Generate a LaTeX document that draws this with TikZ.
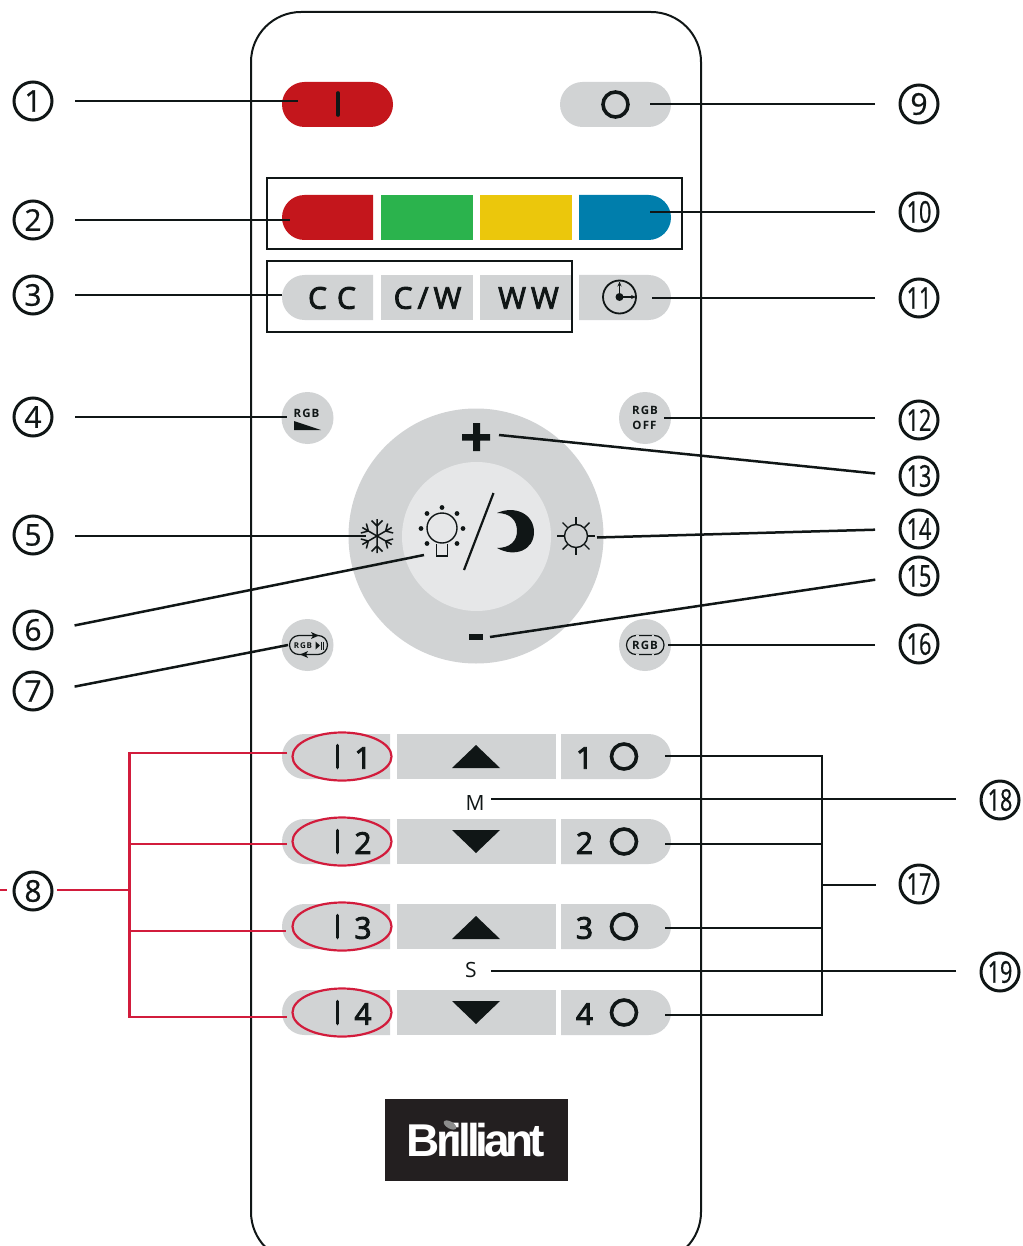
\documentclass[tikz,border=0pt]{standalone}
\usepackage{fontspec}
\usepackage{graphicx}
\setmainfont{Open Sans}
\newfontfamily\spaced[LetterSpace=10]{Open Sans}
\newfontfamily\semi[FakeBold=3]{Open Sans}
\newfontfamily\medi[FakeBold=0.8]{Open Sans}
\newfontfamily\logofont[LetterSpace=-9]{Liberation Sans}
\usetikzlibrary{shapes.misc,shapes.geometric,arrows.meta}
\definecolor{ink}{HTML}{101616}
\definecolor{bgray}{HTML}{D1D3D4}
\definecolor{lgray}{HTML}{E6E7E8}
\definecolor{bred}{HTML}{C4161C}
\definecolor{bgreen}{HTML}{2BB34D}
\definecolor{byellow}{HTML}{EBC70C}
\definecolor{bblue}{HTML}{007EAC}
\definecolor{lred}{HTML}{D21C3C}
\definecolor{logok}{HTML}{231F20}
\tikzset{
 every node/.style={inner sep=0pt,outer sep=0pt,text=ink},
 callout/.style={circle,draw=ink,line width=3pt,minimum size=38pt,font=\medi\fontsize{30}{30}\selectfont},
 pill/.style={rounded rectangle,fill=#1,minimum height=45pt},
 pillL/.style={rounded rectangle,rounded rectangle right arc=none,fill=#1,minimum height=45pt},
 pillR/.style={rounded rectangle,rounded rectangle left arc=none,fill=#1,minimum height=45pt},
 sqbtn/.style={rectangle,fill=#1,minimum height=45pt},
 roundbtn/.style={circle,fill=bgray,minimum size=52pt},
 conn/.style={draw=ink,line width=2.5pt},
 lconn/.style={conn,shorten <=23pt},
 rconn/.style={conn,shorten <=25pt},
 redconn/.style={draw=lred,line width=2.4pt},
 bold/.style={font=\semi\fontsize{30}{30}\selectfont},
 small/.style={font=\spaced\fontsize{11.5}{11.5}\selectfont\bfseries},
 bar/.style={draw=ink,line width=3.6pt,line cap=round},
 oring/.style={circle,draw=ink,line width=3.6pt,minimum size=25pt},
 redring/.style={ellipse,draw=lred,line width=2.2pt},
 thinl/.style={draw=ink,line width=1.2pt},
}
\begin{document}
\begin{tikzpicture}[x=1pt,y=-1pt]
\useasboundingbox (0,0) rectangle (1022,1246);
\clip (0,0) rectangle (1022,1246);
% body
\draw[ink,line width=2pt,rounded corners=50pt] (251,12) rectangle (701,1262);
% top buttons
\node[pill=bred,minimum width=111pt] (on) at (337.5,104.5) {};
\node[pill=bgray,minimum width=111pt] (off) at (615.5,104.5) {};
\draw[bar] (338,93) -- (338,115);
\node[oring] (offring) at (615.5,104.5) {};
% colour row
\node[pillL=bred,minimum width=91pt] (kred) at (327.5,217.5) {};
\node[sqbtn=bgreen,minimum width=92pt] (kgreen) at (427,217.5) {};
\node[sqbtn=byellow,minimum width=92pt] (kyellow) at (526,217.5) {};
\node[pillR=bblue,minimum width=92pt] (kblue) at (625,217.5) {};
\draw[ink,line width=2.4pt] (267,178) rectangle (682,249);
% white row
\node[pillL=bgray,minimum width=91pt] (kcc) at (327.5,297.5) {};
\node[sqbtn=bgray,minimum width=92pt] (kcw) at (427,297.5) {};
\node[sqbtn=bgray,minimum width=92pt] (kww) at (526,297.5) {};
\node[pillR=bgray,minimum width=92pt] (kclock) at (625,297.5) {};
\node[bold] (tcc) at (332,298) {C\,\,C};
\node[bold] (tcw) at (427.5,298) {C\,/\,W};
\node[bold] (tww) at (528.5,298) {W\,W};
\draw[ink,line width=2.4pt] (267,261) rectangle (572,332);
% clock
\draw[ink,line width=1.8pt] (619.5,297) circle (16.5);
\fill[ink] (619.5,297) circle (4);
\draw[ink,line width=1pt,-{Stealth[length=5pt,width=4pt]}] (619.5,297) -- (619.5,281.5);
\draw[ink,line width=1pt,-{Stealth[length=5pt,width=4pt]}] (619.5,297) -- (636,297);
% round keys
\node[roundbtn] (k4) at (307.5,418) {};
\node[roundbtn] (k12) at (645,418) {};
\node[roundbtn] (k7) at (307.5,645) {};
\node[roundbtn] (k16) at (645,645) {};
\node[small] (t4) at (306.5,413) {RGB};
\fill[ink] (294,421) -- (294,430) -- (321,430) -- cycle;
\node[small] (t12a) at (645,410) {RGB};
\node[small] (t12b) at (644.5,425) {OFF};
% key 7
\draw[thinl,rounded corners=9.5pt] (289.5,635.5) rectangle (327.5,654.5);
\fill[ink] (319,635.5) -- (311,632) -- (313,635.5) -- (311,639) -- cycle;
\fill[ink] (300,654.5) -- (308,651) -- (306,654.5) -- (308,658) -- cycle;
\node[font=\spaced\fontsize{8}{8}\selectfont\bfseries] (t7) at (303,645.5) {RGB};
\fill[ink] (315.5,641.5) -- (315.5,649.5) -- (320,645.5) -- cycle;
\draw[ink,line width=.9pt] (321.5,641.5) -- (321.5,649.5) (323.5,641.5) -- (323.5,649.5);
% key 16
\draw[thinl,rounded corners=9.5pt] (626.5,635.5) rectangle (664,654.5);
\draw[bgray,line width=2pt] (636,635.5) -- (638.5,635.5) (651.5,635.5) -- (654,635.5) (636,654.5) -- (638.5,654.5) (651.5,654.5) -- (654,654.5);
\node[small] (t16) at (645,645) {RGB};
% dial
\node[circle,fill=bgray,minimum size=255pt] (dial) at (476,536) {};
\node[circle,fill=lgray,minimum size=149pt] (dialin) at (476.5,536.5) {};
\fill[ink] (473,423) rectangle (480,451) (462,434) rectangle (490,440.5);
\fill[ink] (469,634) rectangle (483,640);
% snowflake
\begin{scope}[shift={(377,536)}]
\foreach \a in {0,60,...,300}{
 \draw[ink,line width=1.5pt,rotate=\a] (0,0) -- (0,-17) (-5.5,-15.5) -- (0,-10) -- (5.5,-15.5);
}
\end{scope}
% bulb
\draw[ink,line width=1.4pt] (442,528) circle (15);
\draw[ink,line width=1.4pt,fill=lgray] (436.5,544) -- (436.5,556) -- (447.5,556) -- (447.5,544);
\foreach \x/\y in {442/507.5,457/513.5,463/528.5,457/543.5,427/543.5,421/528.5,427/513.5}{
 \fill[ink] (\x,\y) circle (2.4);
}
\draw[ink,line width=2.2pt] (493.5,493) -- (464,570);
% moon
\fill[ink] (497,513) .. controls (515,505) and (534,514) .. (534,532) .. controls (534,550) and (515,558) .. (497,548) .. controls (510,548) and (517,541) .. (517,531) .. controls (517,520) and (510,513) .. (497,513) -- cycle;
% sun
\begin{scope}[shift={(576,536)}]
\draw[ink,line width=1.4pt] (0,0) circle (11.5);
\foreach \a in {0,45,...,315}{
 \draw[ink,line width=1.4pt,rotate=\a] (0,-12) -- (0,-19);
}
\end{scope}
% bottom rows
\foreach \n/\y in {1/756.5,2/841.5,3/926.5,4/1012.5}{
 \node[pillL=bgray,minimum width=108pt] (L\n) at (336,\y) {};
 \node[sqbtn=bgray,minimum width=159pt] (M\n) at (476.5,\y) {};
 \node[pillR=bgray,minimum width=110pt] (R\n) at (616,\y) {};
 \draw[bar] (337.5,\y-11) -- (337.5,\y+11);
 \node[bold] (ld\n) at (363,\y+1.5) {\n};
 \node[bold] (rd\n) at (584.5,\y+1.5) {\n};
 \node[oring] (rr\n) at (624,\y) {};
 \node[redring,minimum width=99pt,minimum height=48pt] (el\n) at (342,\y) {};
}
\fill[ink] (452,768) -- (500,768) -- (476,745) -- cycle;
\fill[ink] (452,830) -- (500,830) -- (476,853) -- cycle;
\fill[ink] (452,939) -- (500,939) -- (476,916) -- cycle;
\fill[ink] (452,1001) -- (500,1001) -- (476,1024) -- cycle;
\node[font=\fontsize{21}{21}\selectfont] (tM) at (475,803) {M};
\node[font=\fontsize{21}{21}\selectfont] (tS) at (471,970) {S};
% logo
\node[rectangle,fill=logok,minimum width=183pt,minimum height=82pt] (logo) at (476.5,1140) {};
\node[text=white,font=\logofont\fontsize{46}{46}\selectfont\bfseries] (logot) at (476,1140) {Brilliant};
\fill[black!45,rotate around={-30:(450,1125)}] (450,1125) ellipse (7 and 3.5);
% callouts
\foreach \n/\x/\y in {1/33/101,2/33/220,3/33/295,4/33/417,5/33/535,6/33/630,7/33/691,8/33/891,9/919/104}{
 \node[callout] (c\n) at (\x,\y) {\n};
}
\foreach \n/\x/\y in {10/919/212,11/919/298,12/919/420,13/919/476,14/919/529,15/919/576,16/919/644,17/919/884,18/1000/800,19/1000/972}{
 \node[callout] (c\n) at (\x,\y) {\scalebox{.72}[1]{\n}};
}
% connector ends
\coordinate (e1) at (298,101);
\coordinate (e2) at (290,220);
\coordinate (e3) at (282,295);
\coordinate (e4) at (287,417);
\coordinate (e5) at (366,536);
\coordinate (e6) at (424,555);
\coordinate (e7) at (288,645);
\coordinate (e9) at (650,104);
\coordinate (e10) at (650,212);
\coordinate (e11) at (652,298);
\coordinate (e12) at (664,418);
\coordinate (e13) at (499,435);
\coordinate (e14) at (597,537.5);
\coordinate (e15) at (490,637);
\coordinate (e16) at (668,645);
\coordinate (e18) at (491,799);
\coordinate (e19) at (491,971);
\coordinate (s8) at (0,890);
\coordinate (t8) at (7,890);
\foreach \n in {1,2,3,4,5}{ \draw[lconn] (c\n.east |- e\n) -- (e\n); }
\foreach \n in {6,7}{ \draw[lconn] (c\n.east) -- (e\n); }
\foreach \n in {9,10,11,12,16,18,19}{ \draw[rconn] (c\n.west |- e\n) -- (e\n); }
\foreach \n in {13,14,15}{ \draw[rconn] (c\n.west) -- (e\n); }
% group 17
\coordinate (j17t) at (822,756);
\coordinate (j17b) at (822,1015);
\coordinate (j17m) at (822,885);
\coordinate (r1e) at (665,756);
\coordinate (r2e) at (665,844);
\coordinate (r3e) at (665,928);
\coordinate (r4e) at (665,1015);
\draw[conn] (r1e) -- (j17t) -- (j17b) -- (r4e);
\draw[conn] (r2e) -- (822,844);
\draw[conn] (r3e) -- (822,928);
\draw[conn] (j17m) -- ([xshift=-24pt]c17.west |- j17m);
% group 8
\coordinate (j8) at (129.5,890);
\coordinate (l1e) at (287,753);
\coordinate (l2e) at (287,844);
\coordinate (l3e) at (286,931);
\coordinate (l4e) at (287,1017);
\draw[redconn] (s8) -- (t8);
\draw[redconn] ([xshift=5pt]c8.east |- j8) -- (j8);
\draw[redconn] (l1e) -- (129.5,753) -- (129.5,1017) -- (l4e);
\draw[redconn] (129.5,844) -- (l2e);
\draw[redconn] (129.5,931) -- (l3e);
\end{tikzpicture}
\end{document}
